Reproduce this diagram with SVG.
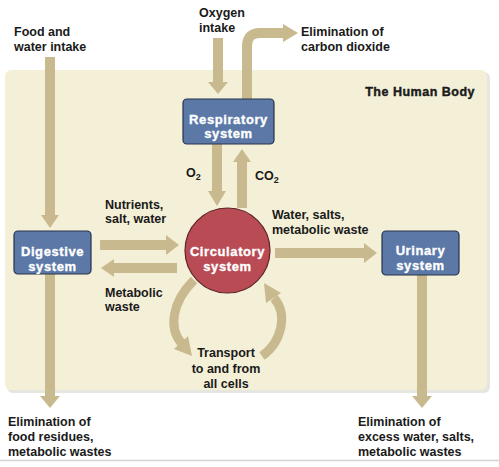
<svg xmlns="http://www.w3.org/2000/svg" width="499" height="467" viewBox="0 0 499 467">
<defs>
<style>
.lbl{font-family:"Liberation Sans",Arial,sans-serif;font-weight:bold;font-size:12.5px;fill:#1a1a1a}
.box{fill:#5b78a7;stroke:#26324a;stroke-width:1.2}
.btxt{font-family:"Liberation Sans",Arial,sans-serif;font-weight:bold;font-size:13px;letter-spacing:0.6px;fill:#ffffff;stroke:#ffffff;stroke-width:0.35;text-anchor:middle}
.shaft{fill:none;stroke:#c9b98e;stroke-width:10}
.head{fill:#c9b98e}
</style>
</defs>
<rect width="499" height="467" fill="#ffffff"/>
<line x1="0" y1="460.5" x2="499" y2="460.5" stroke="#d4d4d4" stroke-width="1.5"/>
<g id="body">
<rect x="7" y="72" width="483" height="321" rx="6" fill="#e6e6e0"/>
<rect x="5" y="70" width="482" height="320" rx="6" fill="#f4f0d8"/>
<text x="475" y="96" class="lbl" text-anchor="end" style="font-size:12.5px;letter-spacing:0.5px;stroke:#1a1a1a;stroke-width:0.4">The Human Body</text>
</g>
<g id="connectors">
<path class="shaft" d="M50 57V216"/><polygon class="head" points="41,215 50,228 59,215"/>
<path class="shaft" d="M50 274V397"/><polygon class="head" points="40,396 50,408 60,396"/>
<path class="shaft" d="M422 275V397"/><polygon class="head" points="412,396 422,408 432,396"/>
<path class="shaft" d="M218 38V83"/><polygon class="head" points="208,82 218,94 228,82"/>
<path class="shaft" d="M247 99V46Q247 33 260 33H284"/><polygon class="head" points="283,24 298,33 283,42"/>
<path class="shaft" d="M217 144V192"/><polygon class="head" points="208,191 217,206 226,191"/>
<path class="shaft" d="M242 208V161"/><polygon class="head" points="233,162 242,149 251,162"/>
<path class="shaft" d="M100 245H167"/><polygon class="head" points="166,235 179,245 166,255"/>
<path class="shaft" d="M177 268H113"/><polygon class="head" points="114,259 101,268 114,277"/>
<path class="shaft" d="M275 253H365"/><polygon class="head" points="364,243 377,253 364,263"/>
<path class="shaft" style="stroke-width:9" d="M194 280C172 302 168 328 182 344"/><polygon class="head" points="174,349 192,356 188,336"/>
<path class="shaft" style="stroke-width:9" d="M262 356C282 342 288 314 274 298"/><polygon class="head" points="281,293 264,283 266,303"/>
</g>
<g id="respiratory">
<rect class="box" x="183" y="99" width="91" height="45" rx="4"/>
<text class="btxt" x="228.5" y="124">Respiratory</text>
<text class="btxt" x="228.5" y="138">system</text>
</g>
<g id="digestive">
<rect class="box" x="14" y="231" width="77" height="43" rx="4"/>
<text class="btxt" x="52.5" y="256">Digestive</text>
<text class="btxt" x="52.5" y="271">system</text>
</g>
<g id="urinary">
<rect class="box" x="382" y="231" width="77" height="44" rx="4"/>
<text class="btxt" x="420.5" y="255">Urinary</text>
<text class="btxt" x="420.5" y="270">system</text>
</g>
<g id="circulatory">
<circle cx="227.5" cy="250.5" r="42.5" fill="#b84b53" stroke="#5e2327" stroke-width="1.2"/>
<text class="btxt" x="227.5" y="256">Circulatory</text>
<text class="btxt" x="227.5" y="271">system</text>
</g>
<g id="labels">
<text class="lbl" x="14" y="36">Food and</text>
<text class="lbl" x="14" y="51">water intake</text>
<text class="lbl" x="199" y="17">Oxygen</text>
<text class="lbl" x="199" y="32">intake</text>
<text class="lbl" x="301" y="36">Elimination of</text>
<text class="lbl" x="301" y="51">carbon dioxide</text>
<text class="lbl" x="186" y="177">O<tspan dy="3" style="font-size:9px">2</tspan></text>
<text class="lbl" x="255" y="180">CO<tspan dy="3" style="font-size:9px">2</tspan></text>
<text class="lbl" x="105" y="209">Nutrients,</text>
<text class="lbl" x="105" y="223">salt, water</text>
<text class="lbl" x="105" y="297">Metabolic</text>
<text class="lbl" x="105" y="311">waste</text>
<text class="lbl" x="272" y="219">Water, salts,</text>
<text class="lbl" x="272" y="234">metabolic waste</text>
<text class="lbl" x="226" y="357" text-anchor="middle">Transport</text>
<text class="lbl" x="226" y="373" text-anchor="middle">to and from</text>
<text class="lbl" x="226" y="388" text-anchor="middle">all cells</text>
<text class="lbl" x="8" y="426">Elimination of</text>
<text class="lbl" x="8" y="441">food residues,</text>
<text class="lbl" x="8" y="456">metabolic wastes</text>
<text class="lbl" x="358" y="426">Elimination of</text>
<text class="lbl" x="358" y="441">excess water, salts,</text>
<text class="lbl" x="358" y="456">metabolic wastes</text>
</g>
</svg>
